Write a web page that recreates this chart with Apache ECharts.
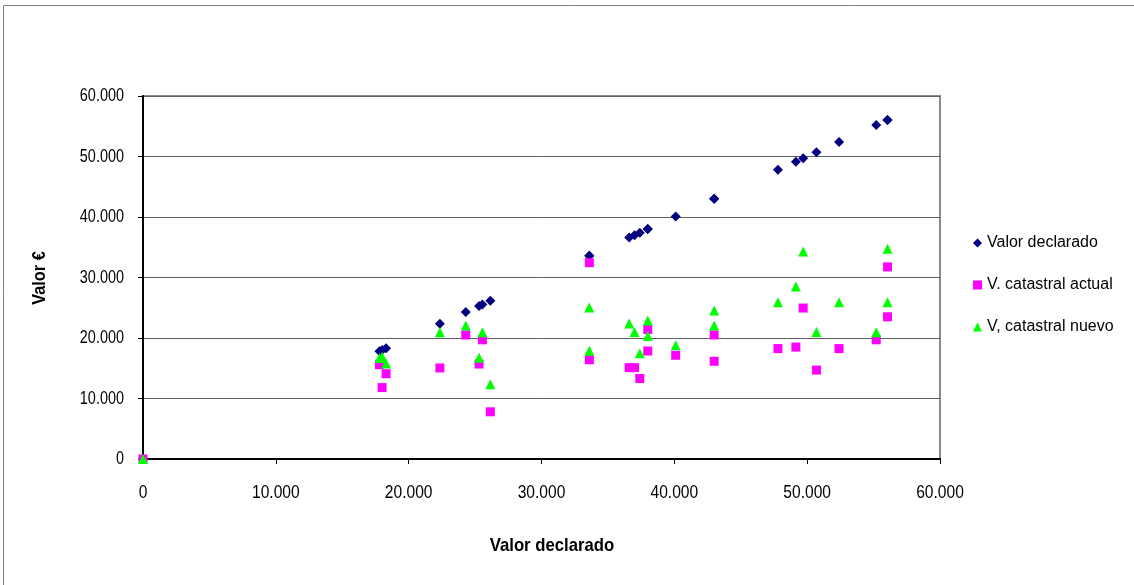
<!DOCTYPE html>
<html>
<head>
<meta charset="utf-8">
<script src="https://cdn.jsdelivr.net/npm/echarts@6/dist/echarts.min.js"></script>
<style>
  html, body { margin: 0; padding: 0; background: #fff; }
  #chart { width: 1134px; height: 585px; }
</style>
</head>
<body>
<div id="chart"></div>
<script>
// Series names
const seriesNames = ['Valor declarado', 'V. catastral actual', 'V, catastral nuevo'];

// Declared value of each property (x) — also plotted as its own y series
const declarado = [0, 17800, 18000, 18300, 22350, 24300, 25300, 25550, 26150, 33600, 33600,
  36600, 37000, 37400, 38000, 38000, 40100, 43000, 43000, 47800, 49150, 49700, 50700,
  52400, 55200, 56050, 56050];

// Current cadastral value
const catastralActual = [0, 15600, 11800, 14100, 15050, 20500, 15700, 19700, 7800, 32450, 16400,
  15100, 15100, 13300, 21400, 17850, 17150, 16150, 20500, 18250, 18500, 24950, 14700,
  18250, 19700, 31750, 23500];

// New cadastral value
const catastralNuevo = [0, 16700, 16900, 15800, 20950, 22050, 16750, 20950, 12350, 25050, 17900,
  22400, 21000, 17500, 22900, 20350, 18800, 24550, 22050, 25900, 28500, 34300, 21000,
  25900, 20950, 34750, 25900];

// Axis ticks (same for both axes)
const ticks = [0, 10000, 20000, 30000, 40000, 50000, 60000];
const xTitle = 'Valor declarado';
const yTitle = 'Valor €';

const fmt = v => v === 0 ? '0' : String(v).replace(/\B(?=(\d{3})+(?!\d))/g, '.');
const pairs = ys => declarado.map((x, i) => [x, ys[i]]);

const FONT = '"Liberation Sans", Arial, sans-serif';
const TICK_SIZE = 19, TICK_SCALE = 0.82;

const chart = echarts.init(document.getElementById('chart'), null, { renderer: 'canvas' });
chart.setOption({
  animation: false,
  backgroundColor: '#fff',
  grid: {
    left: 143, top: 96, width: 797, height: 363,
    show: true, borderColor: '#8a8a8a', borderWidth: 2, backgroundColor: 'transparent'
  },
  legend: {
    orient: 'vertical', left: 968, top: 230, itemGap: 26,
    itemWidth: 9, itemHeight: 9,
    textStyle: { fontFamily: FONT, fontSize: 16, color: '#000', padding: [0, 0, 0, 0] },
    data: seriesNames
  },
  xAxis: {
    type: 'value', min: ticks[0], max: ticks[ticks.length - 1], interval: ticks[1] - ticks[0],
    axisLine: { show: true, onZero: false, lineStyle: { color: '#000', width: 2 } },
    axisTick: { show: true, length: 5, lineStyle: { color: '#000' } },
    axisLabel: { show: false },
    splitLine: { show: false }
  },
  yAxis: {
    type: 'value', min: ticks[0], max: ticks[ticks.length - 1], interval: ticks[1] - ticks[0],
    axisLine: { show: true, onZero: false, lineStyle: { color: '#000', width: 2 } },
    axisTick: { show: true, length: 5, lineStyle: { color: '#000' } },
    axisLabel: { show: false },
    splitLine: { show: true, lineStyle: { color: '#606060', width: 1 } }
  },
  series: [
    { name: seriesNames[0], type: 'scatter', symbol: 'diamond', symbolSize: 10,
      itemStyle: { color: '#000080', opacity: 1 }, data: pairs(declarado), z: 3 },
    { name: seriesNames[1], type: 'scatter', symbol: 'rect', symbolSize: 9,
      itemStyle: { color: '#ff00ff', opacity: 1 }, data: pairs(catastralActual), z: 4 },
    { name: seriesNames[2], type: 'scatter', symbol: 'triangle', symbolSize: 10,
      itemStyle: { color: '#00ff00', opacity: 1 }, data: pairs(catastralNuevo), z: 5 }
  ]
});

// Tick labels and axis titles in a condensed face, placed through the axis scales
const toPx = (x, y) => chart.convertToPixel({ gridIndex: 0 }, [x, y]);
const texts = [];
ticks.forEach(v => {
  const [px, py] = toPx(v, 0);
  texts.push({ type: 'text', x: px, y: py + 34, scaleX: TICK_SCALE, silent: true,
    style: { text: fmt(v), fontFamily: FONT, fontSize: TICK_SIZE, fill: '#000',
      align: 'center', verticalAlign: 'middle' } });
});
ticks.forEach(v => {
  const [px, py] = toPx(0, v);
  texts.push({ type: 'text', x: px - 19, y: py, scaleX: 0.76, silent: true,
    style: { text: fmt(v), fontFamily: FONT, fontSize: TICK_SIZE, fill: '#000',
      align: 'right', verticalAlign: 'middle' } });
});
texts.push({ type: 'text', x: 552, y: 546, scaleX: 0.88, silent: true,
  style: { text: xTitle, fontFamily: FONT, fontSize: 19, fontWeight: 'bold', fill: '#000',
    align: 'center', verticalAlign: 'middle' } });
texts.push({ type: 'text', x: 40, y: 278, rotation: Math.PI / 2, scaleX: 0.86, silent: true,
  style: { text: yTitle, fontFamily: FONT, fontSize: 19, fontWeight: 'bold', fill: '#000',
    align: 'center', verticalAlign: 'middle' } });
// Outer chart frame
texts.push({ type: 'line', shape: { x1: 3.5, y1: 5.5, x2: 1134, y2: 5.5 }, style: { stroke: '#808080', lineWidth: 1 } });
texts.push({ type: 'line', shape: { x1: 3.5, y1: 5.5, x2: 3.5, y2: 585 }, style: { stroke: '#808080', lineWidth: 1 } });

chart.setOption({ graphic: texts });
</script>
</body>
</html>
